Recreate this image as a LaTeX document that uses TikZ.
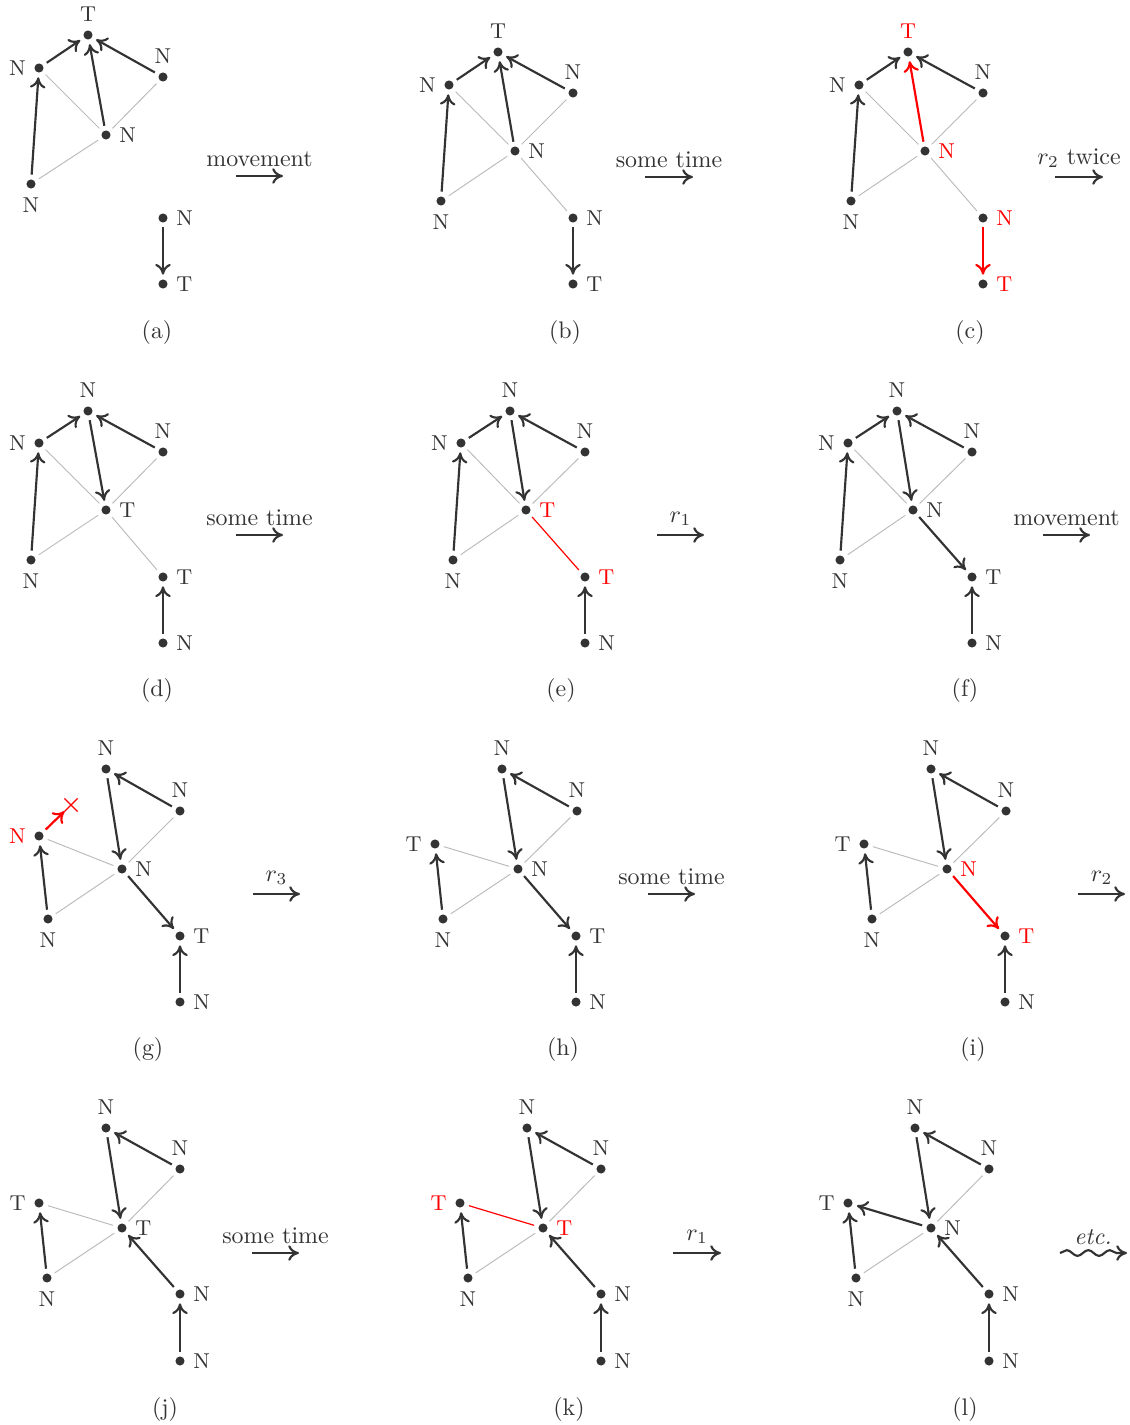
\documentclass[tikz,border=0pt]{standalone}
\usetikzlibrary{arrows.meta}
\usetikzlibrary{shapes.misc}
\usetikzlibrary{decorations.pathmorphing}

\definecolor{ink}{HTML}{333333}
\definecolor{rim}{HTML}{BBBBBB}

\tikzset{
    dot/.style={circle, fill=ink, inner sep=0pt, minimum size=3.8pt, outer sep=2pt},
    hot/.style={text=red},
    link/.style={draw=rim, line width=0.4pt},
    hotlink/.style={draw=red, line width=0.5pt},
    pass/.style={draw=ink, line width=0.9pt, -{Computer Modern Rightarrow[length=4.5pt,width=6.5pt]}},
    hotpass/.style={pass, draw=red},
    trans/.style={draw=ink, line width=0.9pt, -{Computer Modern Rightarrow[length=4.5pt,width=6.5pt]}},
    wavy/.style={trans, decorate, decoration={snake, amplitude=1.2pt, segment length=9pt, post length=4pt}},
    nope/.style={cross out, draw=red, line width=0.5pt, minimum size=5pt, inner sep=0pt},
    every label/.style={font=\small, inner sep=1.5pt},
}

\begin{document}
\begin{tikzpicture}[x=0.418pt, y=-0.418pt, text=ink]
    \useasboundingbox (0,0) rectangle (1130,1425);

    %%% Panel (a) %%%
    \node[dot, label=above:T] (a-t) at (88,35) {};
    \node[dot, label=left:N] (a-l) at (39,68) {};
    \node[dot, label=above:N] (a-r) at (163,77) {};
    \node[dot, label=right:N] (a-c) at (106,135) {};
    \node[dot, label=below:N] (a-b) at (31,184) {};
    \node[dot, label=right:N] (a-s) at (163,218) {};
    \node[dot, label=right:T] (a-e) at (163,284) {};
    \draw[link] (a-l) -- (a-c);
    \draw[link] (a-r) -- (a-c);
    \draw[link] (a-b) -- (a-c);
    \draw[pass] (a-l) -- (a-t);
    \draw[pass] (a-c) -- (a-t);
    \draw[pass] (a-r) -- (a-t);
    \draw[pass] (a-b) -- (a-l);
    \draw[pass] (a-s) -- (a-e);
    \coordinate (a-from) at (236,176);
    \coordinate (a-to) at (283,176);
    \draw[trans] (a-from) -- node[above] {movement} (a-to);
    \node (a-cap) at (157,333) {(a)};

    %%% Panel (b) %%%
    \node[dot, label=above:T] (b-t) at (498,52) {};
    \node[dot, label=left:N] (b-l) at (449,85) {};
    \node[dot, label=above:N] (b-r) at (573,93) {};
    \node[dot, label=right:N] (b-c) at (515,151) {};
    \node[dot, label=below:N] (b-b) at (441,201) {};
    \node[dot, label=right:N] (b-s) at (573,218) {};
    \node[dot, label=right:T] (b-e) at (573,284) {};
    \draw[link] (b-l) -- (b-c);
    \draw[link] (b-r) -- (b-c);
    \draw[link] (b-b) -- (b-c);
    \draw[link] (b-c) -- (b-s);
    \draw[pass] (b-l) -- (b-t);
    \draw[pass] (b-c) -- (b-t);
    \draw[pass] (b-r) -- (b-t);
    \draw[pass] (b-b) -- (b-l);
    \draw[pass] (b-s) -- (b-e);
    \coordinate (b-from) at (645,177);
    \coordinate (b-to) at (693,177);
    \draw[trans] (b-from) -- node[above] {some time} (b-to);
    \node (b-cap) at (565,333) {(b)};

    %%% Panel (c) %%%
    \node[dot, label={[hot]above:T}] (c-t) at (908,52) {};
    \node[dot, label=left:N] (c-l) at (859,85) {};
    \node[dot, label=above:N] (c-r) at (983,93) {};
    \node[dot, label={[hot]right:N}] (c-c) at (925,151) {};
    \node[dot, label=below:N] (c-b) at (851,201) {};
    \node[dot, label={[hot]right:N}] (c-s) at (983,218) {};
    \node[dot, label={[hot]right:T}] (c-e) at (983,284) {};
    \draw[link] (c-l) -- (c-c);
    \draw[link] (c-r) -- (c-c);
    \draw[link] (c-b) -- (c-c);
    \draw[link] (c-c) -- (c-s);
    \draw[pass] (c-l) -- (c-t);
    \draw[hotpass] (c-c) -- (c-t);
    \draw[pass] (c-r) -- (c-t);
    \draw[pass] (c-b) -- (c-l);
    \draw[hotpass] (c-s) -- (c-e);
    \coordinate (c-from) at (1055,177);
    \coordinate (c-to) at (1103,177);
    \draw[trans] (c-from) -- node[above] {$r_2$ twice} (c-to);
    \node (c-cap) at (970,333) {(c)};

    %%% Panel (d) %%%
    \node[dot, label=above:N] (d-t) at (88,411) {};
    \node[dot, label=left:N] (d-l) at (39,443) {};
    \node[dot, label=above:N] (d-r) at (163,452) {};
    \node[dot, label=right:T] (d-c) at (106,510) {};
    \node[dot, label=below:N] (d-b) at (31,560) {};
    \node[dot, label=right:T] (d-s) at (163,577) {};
    \node[dot, label=right:N] (d-e) at (163,643) {};
    \draw[link] (d-l) -- (d-c);
    \draw[link] (d-r) -- (d-c);
    \draw[link] (d-b) -- (d-c);
    \draw[link] (d-c) -- (d-s);
    \draw[pass] (d-l) -- (d-t);
    \draw[pass] (d-r) -- (d-t);
    \draw[pass] (d-t) -- (d-c);
    \draw[pass] (d-b) -- (d-l);
    \draw[pass] (d-e) -- (d-s);
    \coordinate (d-from) at (236,535);
    \coordinate (d-to) at (283,535);
    \draw[trans] (d-from) -- node[above] {some time} (d-to);
    \node (d-cap) at (157,691) {(d)};

    %%% Panel (e) %%%
    \node[dot, label=above:N] (e-t) at (510,411) {};
    \node[dot, label=left:N] (e-l) at (461,443) {};
    \node[dot, label=above:N] (e-r) at (585,452) {};
    \node[dot, label={[hot]right:T}] (e-c) at (526,510) {};
    \node[dot, label=below:N] (e-b) at (453,560) {};
    \node[dot, label={[hot]right:T}] (e-s) at (585,577) {};
    \node[dot, label=right:N] (e-e) at (585,643) {};
    \draw[link] (e-l) -- (e-c);
    \draw[link] (e-r) -- (e-c);
    \draw[link] (e-b) -- (e-c);
    \draw[hotlink] (e-c) -- (e-s);
    \draw[pass] (e-l) -- (e-t);
    \draw[pass] (e-r) -- (e-t);
    \draw[pass] (e-t) -- (e-c);
    \draw[pass] (e-b) -- (e-l);
    \draw[pass] (e-e) -- (e-s);
    \coordinate (e-from) at (657,535);
    \coordinate (e-to) at (704,535);
    \draw[trans] (e-from) -- node[above] {$r_1$} (e-to);
    \node (e-cap) at (561,691) {(e)};

    %%% Panel (f) %%%
    \node[dot, label=above:N] (f-t) at (897,411) {};
    \node[dot, label=left:N] (f-l) at (848,443) {};
    \node[dot, label=above:N] (f-r) at (972,452) {};
    \node[dot, label=right:N] (f-c) at (913,510) {};
    \node[dot, label=below:N] (f-b) at (840,560) {};
    \node[dot, label=right:T] (f-s) at (972,577) {};
    \node[dot, label=right:N] (f-e) at (972,643) {};
    \draw[link] (f-l) -- (f-c);
    \draw[link] (f-r) -- (f-c);
    \draw[link] (f-b) -- (f-c);
    \draw[pass] (f-l) -- (f-t);
    \draw[pass] (f-r) -- (f-t);
    \draw[pass] (f-t) -- (f-c);
    \draw[pass] (f-c) -- (f-s);
    \draw[pass] (f-b) -- (f-l);
    \draw[pass] (f-e) -- (f-s);
    \coordinate (f-from) at (1043,535);
    \coordinate (f-to) at (1090,535);
    \draw[trans] (f-from) -- node[above] {movement} (f-to);
    \node (f-cap) at (965,691) {(f)};

    %%% Panel (g) %%%
    \node[dot, label=above:N] (g-t) at (106,769) {};
    \node[dot, label=above:N] (g-r) at (180,811) {};
    \node[dot, label={[hot]left:N}] (g-l) at (39,836) {};
    \node[dot, label=right:N] (g-c) at (122,869) {};
    \node[dot, label=below:N] (g-b) at (48,919) {};
    \node[dot, label=right:T] (g-s) at (180,936) {};
    \node[dot, label=right:N] (g-e) at (180,1002) {};
    \node[nope] (g-x) at (71,805) {};
    \draw[link] (g-l) -- (g-c);
    \draw[link] (g-r) -- (g-c);
    \draw[link] (g-b) -- (g-c);
    \draw[pass] (g-r) -- (g-t);
    \draw[pass] (g-t) -- (g-c);
    \draw[pass] (g-c) -- (g-s);
    \draw[pass] (g-b) -- (g-l);
    \draw[pass] (g-e) -- (g-s);
    \draw[hotpass] (g-l) -- (g-x);
    \coordinate (g-from) at (253,894);
    \coordinate (g-to) at (300,894);
    \draw[trans] (g-from) -- node[above] {$r_3$} (g-to);
    \node (g-cap) at (148,1050) {(g)};

    %%% Panel (h) %%%
    \node[dot, label=above:N] (h-t) at (502,769) {};
    \node[dot, label=above:N] (h-r) at (577,811) {};
    \node[dot, label=left:T] (h-l) at (435,844) {};
    \node[dot, label=right:N] (h-c) at (518,869) {};
    \node[dot, label=below:N] (h-b) at (443,919) {};
    \node[dot, label=right:T] (h-s) at (576,936) {};
    \node[dot, label=right:N] (h-e) at (576,1002) {};
    \draw[link] (h-l) -- (h-c);
    \draw[link] (h-r) -- (h-c);
    \draw[link] (h-b) -- (h-c);
    \draw[pass] (h-r) -- (h-t);
    \draw[pass] (h-t) -- (h-c);
    \draw[pass] (h-c) -- (h-s);
    \draw[pass] (h-b) -- (h-l);
    \draw[pass] (h-e) -- (h-s);
    \coordinate (h-from) at (648,894);
    \coordinate (h-to) at (695,894);
    \draw[trans] (h-from) -- node[above] {some time} (h-to);
    \node (h-cap) at (563,1050) {(h)};

    %%% Panel (i) %%%
    \node[dot, label=above:N] (i-t) at (931,769) {};
    \node[dot, label=above:N] (i-r) at (1006,811) {};
    \node[dot, label=left:T] (i-l) at (864,844) {};
    \node[dot, label={[hot]right:N}] (i-c) at (947,869) {};
    \node[dot, label=below:N] (i-b) at (872,919) {};
    \node[dot, label={[hot]right:T}] (i-s) at (1005,936) {};
    \node[dot, label=right:N] (i-e) at (1005,1002) {};
    \draw[link] (i-l) -- (i-c);
    \draw[link] (i-r) -- (i-c);
    \draw[link] (i-b) -- (i-c);
    \draw[pass] (i-r) -- (i-t);
    \draw[pass] (i-t) -- (i-c);
    \draw[hotpass] (i-c) -- (i-s);
    \draw[pass] (i-b) -- (i-l);
    \draw[pass] (i-e) -- (i-s);
    \coordinate (i-from) at (1078,894);
    \coordinate (i-to) at (1125,894);
    \draw[trans] (i-from) -- node[above] {$r_2$} (i-to);
    \node (i-cap) at (973,1050) {(i)};

    %%% Panel (j) %%%
    \node[dot, label=above:N] (j-t) at (106,1128) {};
    \node[dot, label=above:N] (j-r) at (180,1169) {};
    \node[dot, label=left:T] (j-l) at (39,1203) {};
    \node[dot, label=right:T] (j-c) at (122,1228) {};
    \node[dot, label=below:N] (j-b) at (47,1278) {};
    \node[dot, label=right:N] (j-s) at (180,1294) {};
    \node[dot, label=right:N] (j-e) at (180,1361) {};
    \draw[link] (j-l) -- (j-c);
    \draw[link] (j-r) -- (j-c);
    \draw[link] (j-b) -- (j-c);
    \draw[pass] (j-r) -- (j-t);
    \draw[pass] (j-t) -- (j-c);
    \draw[pass] (j-s) -- (j-c);
    \draw[pass] (j-b) -- (j-l);
    \draw[pass] (j-e) -- (j-s);
    \coordinate (j-from) at (252,1253);
    \coordinate (j-to) at (299,1253);
    \draw[trans] (j-from) -- node[above] {some time} (j-to);
    \node (j-cap) at (165,1410) {(j)};

    %%% Panel (k) %%%
    \node[dot, label=above:N] (k-t) at (527,1128) {};
    \node[dot, label=above:N] (k-r) at (601,1169) {};
    \node[dot, label={[hot]left:T}] (k-l) at (460,1203) {};
    \node[dot, label={[hot]right:T}] (k-c) at (543,1228) {};
    \node[dot, label=below:N] (k-b) at (468,1278) {};
    \node[dot, label=right:N] (k-s) at (601,1294) {};
    \node[dot, label=right:N] (k-e) at (601,1361) {};
    \draw[hotlink] (k-l) -- (k-c);
    \draw[link] (k-r) -- (k-c);
    \draw[link] (k-b) -- (k-c);
    \draw[pass] (k-r) -- (k-t);
    \draw[pass] (k-t) -- (k-c);
    \draw[pass] (k-s) -- (k-c);
    \draw[pass] (k-b) -- (k-l);
    \draw[pass] (k-e) -- (k-s);
    \coordinate (k-from) at (673,1253);
    \coordinate (k-to) at (721,1253);
    \draw[trans] (k-from) -- node[above] {$r_1$} (k-to);
    \node (k-cap) at (569,1410) {(k)};

    %%% Panel (l) %%%
    \node[dot, label=above:N] (l-t) at (915,1128) {};
    \node[dot, label=above:N] (l-r) at (989,1169) {};
    \node[dot, label=left:T] (l-l) at (848,1203) {};
    \node[dot, label=right:N] (l-c) at (931,1228) {};
    \node[dot, label=below:N] (l-b) at (856,1278) {};
    \node[dot, label=right:N] (l-s) at (989,1294) {};
    \node[dot, label=right:N] (l-e) at (989,1361) {};
    \draw[link] (l-r) -- (l-c);
    \draw[link] (l-b) -- (l-c);
    \draw[pass] (l-r) -- (l-t);
    \draw[pass] (l-t) -- (l-c);
    \draw[pass] (l-c) -- (l-l);
    \draw[pass] (l-s) -- (l-c);
    \draw[pass] (l-b) -- (l-l);
    \draw[pass] (l-e) -- (l-s);
    \coordinate (l-from) at (1060,1253);
    \coordinate (l-to) at (1127,1253);
    \draw[wavy] (l-from) -- (l-to);
    \node[above] (l-etc) at (1093,1253) {\textit{etc.}};
    \node (l-cap) at (965,1410) {(l)};
\end{tikzpicture}
\end{document}
